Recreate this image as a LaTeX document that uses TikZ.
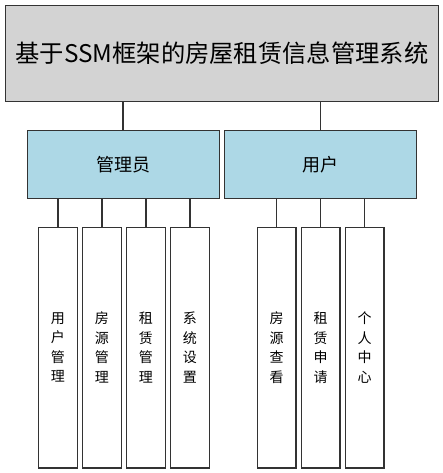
\documentclass[tikz,border=0pt]{standalone}
\usepackage{fontspec}
\newfontfamily\cjk{Noto Sans CJK SC}
\definecolor{topfill}{HTML}{D3D3D3}
\definecolor{midfill}{HTML}{ADD8E6}
\definecolor{edge}{HTML}{333333}
\begin{document}
\begin{tikzpicture}[x=1pt,y=-1pt,
  box/.style={draw=edge,line width=1.2pt,inner sep=0pt,anchor=north west},
  topbox/.style={box,fill=topfill,font=\cjk\fontsize{24.3}{28}\selectfont},
  midbox/.style={box,fill=midfill,font=\cjk\fontsize{18}{22}\selectfont},
  leafbox/.style={box,fill=white,minimum width=38.6pt,minimum height=240.6pt,
    align=center,font=\cjk\fontsize{14}{19.5}\selectfont},
  link/.style={draw=edge,line width=1.2pt}]
\useasboundingbox (0,0) rectangle (443,473);
\node[topbox,minimum width=432.7pt,minimum height=95.7pt] (sys) at (5,5) {基于SSM框架的房屋租赁信息管理系统};
\node[midbox,minimum width=192pt,minimum height=68pt] (admin) at (26.7,130) {管理员};
\node[midbox,minimum width=192.3pt,minimum height=68pt] (user) at (223.7,130) {用户};
\node[leafbox] (a1) at (38,226.7) {用\\户\\管\\理};
\node[leafbox] (a2) at (82,226.7) {房\\源\\管\\理};
\node[leafbox] (a3) at (126,226.7) {租\\赁\\管\\理};
\node[leafbox] (a4) at (170,226.7) {系\\统\\设\\置};
\node[leafbox] (u1) at (256.7,226.7) {房\\源\\查\\看};
\node[leafbox] (u2) at (300.7,226.7) {租\\赁\\申\\请};
\node[leafbox] (u3) at (344.7,226.7) {个\\人\\中\\心};
\draw[link] (admin.north -| 123,0) -- (sys.south -| 123,0);
\draw[link] (user.north) -- (user.north |- sys.south);
\foreach \n in {a1,a2,a3,a4} \draw[link] (\n.north) -- (\n.north |- admin.south);
\foreach \n in {u1,u2,u3} \draw[link] (\n.north) -- (\n.north |- user.south);
\end{tikzpicture}
\end{document}
